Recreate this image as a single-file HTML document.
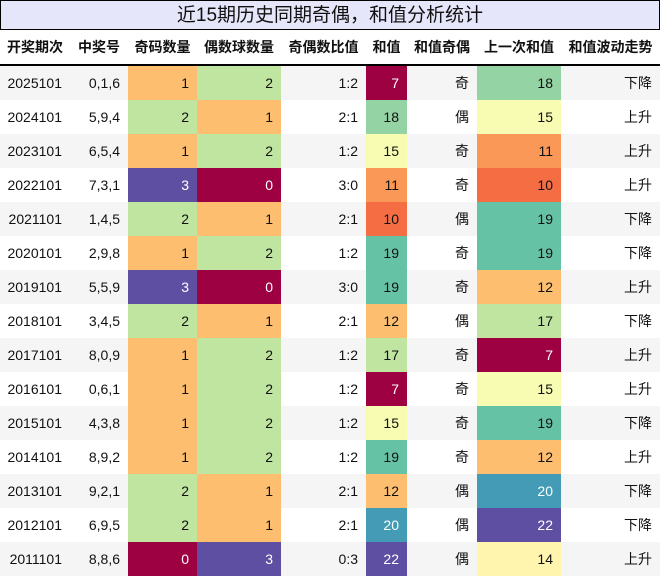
<!DOCTYPE html>
<html><head><meta charset="utf-8">
<style>
body{margin:0;background:#fff;font-family:"Liberation Sans","Noto Sans CJK SC",sans-serif;}
#wrap{position:relative;width:660px;height:576px;overflow:hidden;}
#title{position:absolute;left:0;top:0;width:658px;height:28px;border:1px solid #000;background:#e6e6fa;text-align:center;font-size:19px;line-height:29px;color:#111;}
table{position:absolute;left:0;top:30px;border-collapse:collapse;table-layout:fixed;width:660px;}
th{height:34px;font-size:14px;font-weight:bold;text-align:center;padding:0;border-bottom:2px solid #000;color:#111;}
td{height:34px;font-size:14px;text-align:right;padding:0 8px 0 0;color:#111;}
tr.alt td{background:#f5f5f5;}
</style></head><body>
<div id="wrap">
<div id="title">近15期历史同期奇偶，和值分析统计</div>
<table id="tbl">
<colgroup><col style="width:70px"><col style="width:58px"><col style="width:69px"><col style="width:84px"><col style="width:85px"><col style="width:41px"><col style="width:70px"><col style="width:84px"><col style="width:99px"></colgroup>
<thead><tr>
<th>开奖期次</th>
<th>中奖号</th>
<th>奇码数量</th>
<th>偶数球数量</th>
<th>奇偶数比值</th>
<th>和值</th>
<th>和值奇偶</th>
<th>上一次和值</th>
<th>和值波动走势</th>
</tr></thead><tbody id="body"></tbody></table>
</div>
<script>
const periods=["2025101","2024101","2023101","2022101","2021101","2020101","2019101","2018101","2017101","2016101","2015101","2014101","2013101","2012101","2011101"];
const numbers=["0,1,6","5,9,4","6,5,4","7,3,1","1,4,5","2,9,8","5,5,9","3,4,5","8,0,9","0,6,1","4,3,8","8,9,2","9,2,1","6,9,5","8,8,6"];
const oddCounts=[1,2,1,3,2,1,3,2,1,1,1,1,2,2,0];
const evenCounts=[2,1,2,0,1,2,0,1,2,2,2,2,1,1,3];
const sums=[7,18,15,11,10,19,19,12,17,7,15,19,12,20,22];
const sumParity=["奇","偶","奇","奇","偶","奇","奇","偶","奇","奇","奇","奇","偶","偶","偶"];
const prevSums=[18,15,11,10,19,19,12,17,7,15,19,12,20,22,14];
const trends=["下降","上升","上升","上升","下降","下降","上升","下降","上升","上升","下降","上升","下降","下降","上升"];
const stops=["#9e0142","#d53e4f","#f46d43","#fdae61","#fee08b","#ffffbf","#e6f598","#abdda4","#66c2a5","#3288bd","#5e4fa2"];
function hex(h){return [1,3,5].map(i=>parseInt(h.substr(i,2),16));}
function spectral(t){t=Math.max(0,Math.min(1,t));const p=t*10,i=Math.min(9,Math.floor(p)),f=p-i;const a=hex(stops[i]),b=hex(stops[i+1]);return "rgb("+a.map((v,k)=>Math.round(v+(b[k]-v)*f)).join(",")+")";}
function cell(tr,txt,name,t){const td=document.createElement('td');td.textContent=txt;


if(t!==undefined){td.style.background=spectral(t);if(t<0.15||t>0.85)td.style.color="#fff";}tr.appendChild(td);}
const body=document.getElementById('body');
const cMin=0,cMax=3;
const allS=sums.concat(prevSums),sMin=Math.min(...allS),sMax=Math.max(...allS);
for(let i=0;i<periods.length;i++){
const tr=document.createElement('tr');


if(i%2==0)tr.className='alt';
cell(tr,periods[i],'period-cell');
cell(tr,numbers[i],'numbers-cell');
cell(tr,oddCounts[i],'odd-count-cell',(oddCounts[i]-cMin)/(cMax-cMin));
cell(tr,evenCounts[i],'even-count-cell',(evenCounts[i]-cMin)/(cMax-cMin));
cell(tr,oddCounts[i]+":"+evenCounts[i],'ratio-cell');
cell(tr,sums[i],'sum-cell',(sums[i]-sMin)/(sMax-sMin));
cell(tr,sumParity[i],'sum-parity-cell');
cell(tr,prevSums[i],'prev-sum-cell',(prevSums[i]-sMin)/(sMax-sMin));
cell(tr,trends[i],'trend-cell');
body.appendChild(tr);}
</script>
</body></html>
